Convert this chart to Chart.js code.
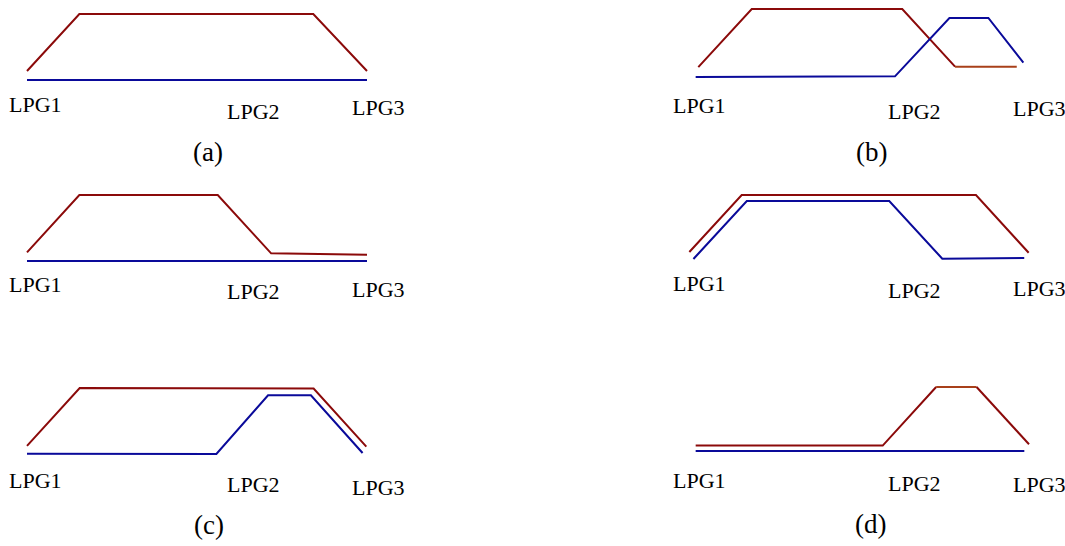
<!DOCTYPE html>
<html>
<head>
<meta charset="utf-8">
<script src="https://cdn.jsdelivr.net/npm/chart.js@4/dist/chart.umd.min.js"></script>
<style>
    html, body { margin: 0; padding: 0; background: #fff; }
    body { width: 1065px; height: 546px; position: relative; overflow: hidden; font-family: 'Liberation Serif', 'Times New Roman', serif; }
    .panel { position: absolute; }
    .lbl { position: absolute; font-size: 22px; line-height: 22px; color: #000; white-space: nowrap; }
    .cap { position: absolute; font-size: 27px; line-height: 27px; color: #000; white-space: nowrap; }
</style>
</head>
<body>
<script>
// axis labels and captions
const tickLabels = ['LPG1', 'LPG2', 'LPG3'];
const captions = ['(a)', '(b)', '(c)', '(d)'];

// level values (x: 0..100 across a panel, y: 0 = base, 100 = top plateau)
const aRedX = [0, 15.4, 84.2, 100];
const aRedY = [13.6, 100, 100, 13.6];
const aBlueX = [0, 100];
const aBlueY = [0, 0];

const bRedX = [1.0, 17.2, 62.8, 78.8, 97.5];
const bRedY = [14.6, 100, 100, 15.2, 15.2];
const bBlueX = [0.2, 60.6, 77.1, 88.9, 99.5];
const bBlueY = [0, 1.0, 86.8, 86.8, 21.1];

const a2RedX = [0, 15.4, 56.1, 71.8, 100];
const a2RedY = [13.1, 100, 100, 11.6, 9.6];
const a2BlueX = [0, 100];
const a2BlueY = [0, 0];

const b2RedX = [0.1, 15.5, 84.4, 99.9];
const b2RedY = [10.9, 100, 100, 9.8];
const b2BlueX = [1.3, 17.0, 58.9, 74.5, 98.6];
const b2BlueY = [0, 90.7, 90.7, 0.5, 1.6];

const cRedX = [0, 15.5, 84.3, 99.8];
const cRedY = [12.2, 100, 99.1, 11.1];
const cBlueX = [0, 55.7, 70.9, 83.5, 98.7];
const cBlueY = [0.5, 0, 88.9, 88.9, 1.5];

const dRedX = [0.2, 56.2, 72.2, 84.3, 100];
const dRedY = [8.4, 8.4, 100, 100, 10.5];
const dBlueX = [0.2, 98.6];
const dBlueY = [0, 0];

const redColor = '#8b0a0a';
const rustColor = '#a8401a';
const blueColor = '#0a0a9a';

function pts(xs, ys) {
    return xs.map((x, i) => ({ x: x, y: ys[i] }));
}

// where each panel's plot box sits on the page: left, right, top, bottom
const panels = [
    { box: [26.7, 366.7, 14, 80], red: pts(aRedX, aRedY), blue: pts(aBlueX, aBlueY),
      lblLeft: [9, 227, 352], lblTop: [98, 105, 101], cap: 0, capPos: [193, 143] },
    { box: [695, 1025, 9.3, 77.7], red: pts(bRedX, bRedY), blue: pts(bBlueX, bBlueY), rust: 3,
      lblLeft: [673, 888, 1013], lblTop: [99, 105, 102], cap: 1, capPos: [856, 143] },
    { box: [26.7, 366.7, 194.7, 260.3], red: pts(a2RedX, a2RedY), blue: pts(a2BlueX, a2BlueY),
      lblLeft: [9, 227, 352], lblTop: [278, 285, 283] },
    { box: [689, 1029, 194.7, 259], red: pts(b2RedX, b2RedY), blue: pts(b2BlueX, b2BlueY),
      lblLeft: [673, 888, 1013], lblTop: [277, 284, 282] },
    { box: [26.7, 366.7, 387.7, 453.3], red: pts(cRedX, cRedY), blue: pts(cBlueX, cBlueY),
      lblLeft: [9, 227, 352], lblTop: [474, 478, 481], cap: 2, capPos: [194, 516] },
    { box: [695, 1029, 386.7, 450.7], red: pts(dRedX, dRedY), blue: pts(dBlueX, dBlueY), rust: 2,
      lblLeft: [673, 888, 1013], lblTop: [474, 477, 478], cap: 3, capPos: [855, 515] }
];

const PAD = 6;

panels.forEach(function (p) {
    const [l, r, t, b] = p.box;
    const div = document.createElement('div');
    div.className = 'panel';
    div.style.left = (l - PAD) + 'px';
    div.style.top = (t - PAD) + 'px';
    const canvas = document.createElement('canvas');
    canvas.width = Math.round(r - l + 2 * PAD);
    canvas.height = Math.round(b - t + 2 * PAD);
    canvas.style.width = canvas.width + 'px';
    canvas.style.height = canvas.height + 'px';
    div.appendChild(canvas);
    document.body.appendChild(div);

    new Chart(canvas.getContext('2d'), {
        type: 'line',
        data: {
            datasets: [
                { data: p.blue, borderColor: blueColor, borderWidth: 2, pointRadius: 0, tension: 0, clip: false, fill: false },
                {
                    data: p.red, borderColor: redColor, borderWidth: 2, pointRadius: 0, tension: 0, clip: false, fill: false,
                    // one flat piece of the red line is a rusty shade in the original
                    segment: { borderColor: ctx => ctx.p0DataIndex === p.rust ? rustColor : undefined }
                }
            ]
        },
        options: {
            responsive: false,
            animation: false,
            events: [],
            layout: { padding: PAD },
            plugins: { legend: { display: false }, tooltip: { enabled: false } },
            scales: {
                x: { type: 'linear', min: 0, max: 100, display: false },
                y: { type: 'linear', min: 0, max: 100, display: false }
            }
        }
    });

    // LPG labels under each panel
    tickLabels.forEach(function (txt, i) {
        const el = document.createElement('div');
        el.className = 'lbl';
        el.textContent = txt;
        el.style.left = p.lblLeft[i] + 'px';
        el.style.top = (p.lblTop[i] - 4) + 'px';
        document.body.appendChild(el);
    });

    if (p.cap !== undefined) {
        const c = document.createElement('div');
        c.className = 'cap';
        c.textContent = captions[p.cap];
        c.style.left = p.capPos[0] + 'px';
        c.style.top = (p.capPos[1] - 4) + 'px';
        document.body.appendChild(c);
    }
});
</script>
</body>
</html>
